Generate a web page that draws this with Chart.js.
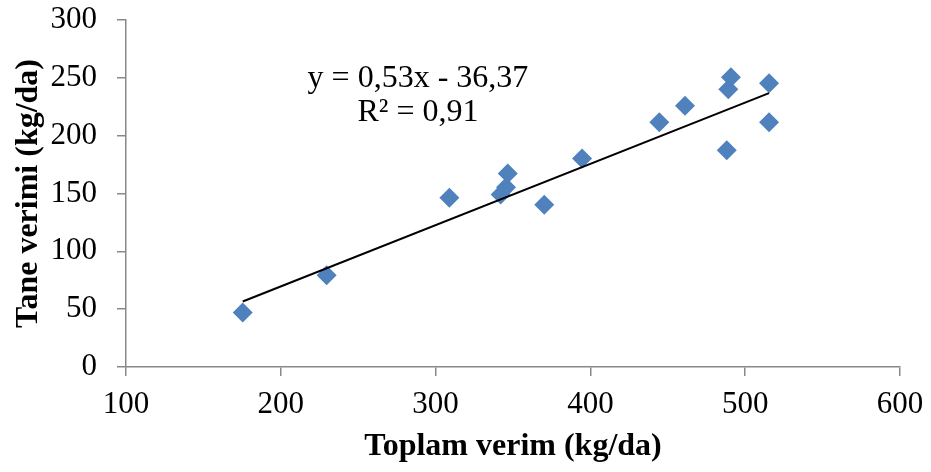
<!DOCTYPE html>
<html><head><meta charset="utf-8">
<script src="https://cdn.jsdelivr.net/npm/chart.js@4/dist/chart.umd.min.js"></script>
<style>html,body{margin:0;padding:0;background:#fff}#wrap{width:931px;height:472px}</style>
</head><body><div id="wrap"><canvas id="c" width="931" height="472"></canvas></div>
<script>
const toplamVerim = [175.4, 229.6, 308.9, 342.0, 345.5, 346.6, 370.2, 394.6, 444.5, 461.1, 488.1, 489.1, 490.8, 515.4, 515.4];
const taneVerimi  = [47.1, 79.3, 146.3, 149.1, 155.4, 167.2, 140.2, 180.2, 211.5, 225.9, 187.3, 240.2, 250.6, 245.4, 211.5];
const slope = 0.53, intercept = -36.37;
const eqLabel = 'y = 0,53x - 36,37';
const r2Label = 'R² = 0,91';
const xTitle = 'Toplam verim (kg/da)';
const yTitle = 'Tane verimi (kg/da)';
const xTicks = [100, 200, 300, 400, 500, 600];
const yTicks = [0, 50, 100, 150, 200, 250, 300];

const points = toplamVerim.map((x, i) => ({x, y: taneVerimi[i]}));
const xMin = Math.min(...toplamVerim), xMax = Math.max(...toplamVerim);
const trend = [{x: xMin, y: slope * xMin + intercept}, {x: xMax, y: slope * xMax + intercept}];

const serif = '"Liberation Serif", "Times New Roman", serif';
const eqPlugin = {
  id: 'eq',
  afterDatasetsDraw(chart) {
    const {ctx, scales} = chart;
    ctx.save();
    ctx.font = '32px ' + serif;
    ctx.fillStyle = '#000';
    ctx.textAlign = 'center';
    ctx.textBaseline = 'middle';
    const cx = scales.x.getPixelForValue(288.6);
    ctx.fillText(eqLabel, cx, scales.y.getPixelForValue(249));
    ctx.fillText(r2Label, cx, scales.y.getPixelForValue(220));
    ctx.restore();
  }
};

const tickFont = {family: serif, size: 31};
const titleFont = {family: serif, size: 32, weight: 'bold'};

new Chart(document.getElementById('c'), {
  type: 'scatter',
  data: {
    datasets: [
      {data: points, pointStyle: 'rectRot', pointRadius: 10, pointHoverRadius: 10,
       backgroundColor: '#4F81BD', borderColor: '#4F81BD', borderWidth: 0, order: 2},
      {type: 'line', data: trend, borderColor: '#000', borderWidth: 2, pointRadius: 0,
       fill: false, showLine: true, order: 1}
    ]
  },
  options: {
    responsive: false, animation: false,
    layout: {padding: {left: 0, right: 31, top: 20, bottom: 0}},
    plugins: {legend: {display: false}, tooltip: {enabled: false}},
    scales: {
      x: {
        type: 'linear', min: 100, max: 600,
        afterBuildTicks(s) { s.ticks = xTicks.map(v => ({value: v})); },
        afterFit(s) { s.height = 105; s.paddingLeft = 0; s.paddingRight = 0; },
        border: {color: '#888', width: 1.5},
        grid: {drawOnChartArea: false, drawTicks: true, tickLength: 9, color: '#888', lineWidth: 1.5},
        ticks: {font: tickFont, color: '#000', padding: 10, maxRotation: 0},
        title: {display: true, text: xTitle, font: titleFont, color: '#000', padding: {top: 0, bottom: 6}}
      },
      y: {
        type: 'linear', min: 0, max: 300,
        afterBuildTicks(s) { s.ticks = yTicks.map(v => ({value: v})); },
        afterFit(s) { s.width = 126; s.paddingTop = 0; s.paddingBottom = 0; },
        border: {color: '#888', width: 1.5},
        grid: {drawOnChartArea: false, drawTicks: true, tickLength: 9, color: '#888', lineWidth: 1.5},
        ticks: {font: tickFont, color: '#000', padding: 20},
        title: {display: true, text: yTitle, font: titleFont, color: '#000', padding: {top: 10, bottom: 0}}
      }
    }
  },
  plugins: [eqPlugin]
});
</script></body></html>
